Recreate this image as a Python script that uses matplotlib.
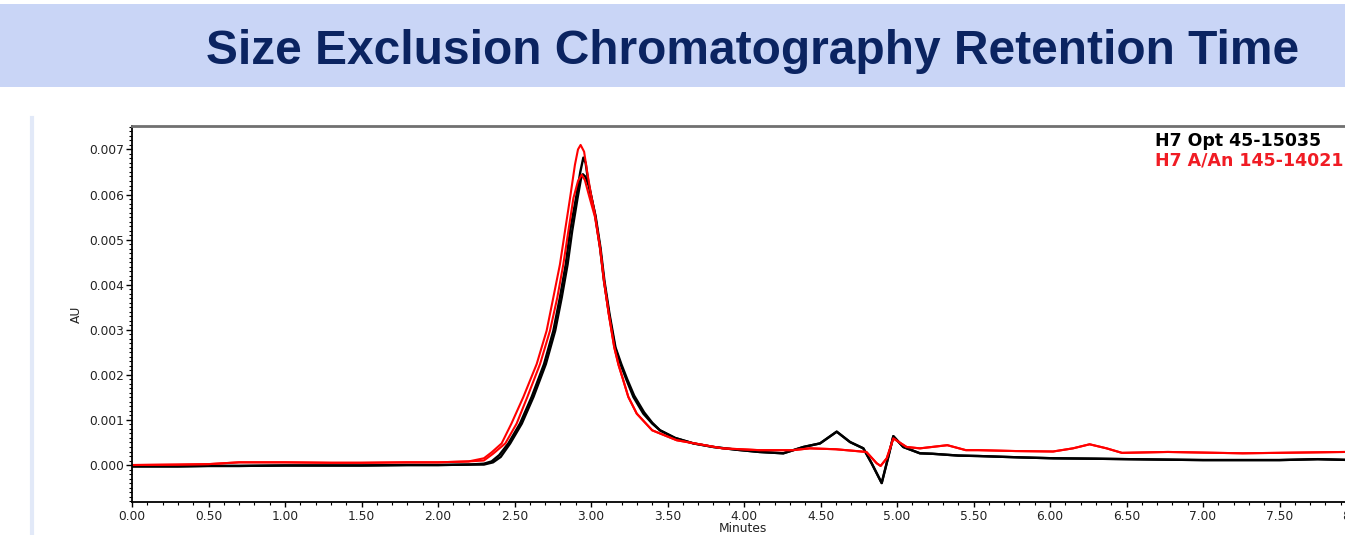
import numpy as np
import matplotlib
matplotlib.use("Agg")
import matplotlib.pyplot as plt
from matplotlib.ticker import MultipleLocator, FormatStrFormatter
from matplotlib.patches import Rectangle
from matplotlib.lines import Line2D

# ---------------- data ----------------
title = "Size Exclusion Chromatography Retention Time"
series_names = ["H7 Opt 45-15035", "H7 A/An 145-14021"]

# shared baseline region (minutes, AU)
t_base = [0.0, 0.3, 0.5, 0.7, 1.0, 1.3, 1.5, 1.8, 2.0, 2.2]
black_base = [-0.00003, -0.00003, -0.00002, -0.00002, -0.00001, -0.00001, -0.00001, 0.0, 0.0, 0.00001]
red_base = [0.0, 0.00001, 0.00002, 0.00006, 0.00006, 0.00005, 0.00005, 0.00006, 0.00006, 0.00008]

# peak regions
t_black_a = [2.3, 2.35, 2.40, 2.46, 2.536, 2.612, 2.693, 2.754, 2.797, 2.835, 2.863, 2.902, 2.93, 2.95,
             2.965, 2.982, 3.026, 3.059, 3.085, 3.118, 3.157, 3.195, 3.233, 3.277, 3.342, 3.40]
au_black_a = [0.00003, 0.00008, 0.00022, 0.00048, 0.00092, 0.00151, 0.00224, 0.00298, 0.00372, 0.00445,
              0.00519, 0.00592, 0.00650, 0.00682, 0.00670, 0.00629, 0.00556, 0.00482, 0.00408, 0.00335,
              0.00261, 0.00222, 0.00188, 0.00151, 0.00114, 0.00092]

t_black_b = [2.3, 2.36, 2.41, 2.472, 2.548, 2.624, 2.705, 2.766, 2.809, 2.847, 2.877, 2.912, 2.935, 2.947,
             2.962, 2.985, 3.030, 3.062, 3.088, 3.121, 3.160, 3.198, 3.237, 3.282, 3.347, 3.40]
au_black_b = [0.00001, 0.00006, 0.00018, 0.00048, 0.00092, 0.00151, 0.00224, 0.00298, 0.00372, 0.00445,
              0.00519, 0.00592, 0.00636, 0.00645, 0.00640, 0.00620, 0.00552, 0.00482, 0.00408, 0.00335,
              0.00261, 0.00224, 0.00190, 0.00154, 0.00117, 0.00094]

t_red_a = [2.3, 2.35, 2.416, 2.48, 2.558, 2.645, 2.71, 2.754, 2.797, 2.83, 2.863, 2.895, 2.915, 2.932,
           2.955, 2.975, 3.0, 3.026, 3.059, 3.085, 3.116, 3.152, 3.180, 3.211, 3.244, 3.299, 3.40]
au_red_a = [0.00015, 0.00028, 0.00048, 0.00092, 0.00151, 0.00224, 0.00298, 0.00372, 0.00445, 0.00519,
            0.00592, 0.00666, 0.00700, 0.00710, 0.00695, 0.00650, 0.00600, 0.00556, 0.00482, 0.00408,
            0.00335, 0.00261, 0.00222, 0.00188, 0.00151, 0.00114, 0.00077]

t_red_b = [2.3, 2.36, 2.44, 2.514, 2.584, 2.667, 2.732, 2.78, 2.819, 2.852, 2.885, 2.915, 2.939,
           2.96, 2.985, 3.026, 3.059, 3.085, 3.116, 3.152, 3.180, 3.211, 3.244, 3.299, 3.40]
au_red_b = [0.00010, 0.00025, 0.00048, 0.00092, 0.00151, 0.00224, 0.00298, 0.00372, 0.00445, 0.00519,
            0.00592, 0.00630, 0.00644, 0.00632, 0.00600, 0.00550, 0.00482, 0.00408, 0.00335, 0.00261,
            0.00222, 0.00188, 0.00151, 0.00114, 0.00077]

# tail regions
t_black_tail = [3.451, 3.55, 3.669, 3.80, 3.95, 4.10, 4.257, 4.388, 4.497, 4.606, 4.693, 4.78, 4.834, 4.90,
                4.943, 4.976, 5.041, 5.15, 5.23, 5.40, 5.53, 5.80, 6.02, 6.30, 6.51, 7.00, 7.50, 7.75, 8.10]
au_black_tail = [0.00077, 0.00060, 0.00048, 0.00040, 0.00034, 0.00029, 0.00026, 0.00040, 0.00048, 0.00074,
                 0.00051, 0.00037, 0.00004, -0.00040, 0.00018, 0.00064, 0.00040, 0.00026, 0.00025, 0.00021,
                 0.00020, 0.00017, 0.00015, 0.00014, 0.00013, 0.00011, 0.00011, 0.00013, 0.00010]

t_red_tail = [3.56, 3.86, 4.10, 4.32, 4.43, 4.60, 4.80, 4.867, 4.893, 4.933, 4.976, 5.063, 5.15, 5.329,
              5.45, 5.53, 5.776, 6.02, 6.15, 6.259, 6.37, 6.47, 6.77, 7.26, 7.93, 8.10]
au_red_tail = [0.00055, 0.00037, 0.00033, 0.00033, 0.00037, 0.00035, 0.00029, 0.00004, -0.00002, 0.00015,
               0.00059, 0.00040, 0.00037, 0.00044, 0.00033, 0.00033, 0.00031, 0.00030, 0.00037, 0.00046,
               0.00037, 0.00027, 0.00029, 0.00026, 0.00029, 0.00028]

x_major = 0.5
y_major = 0.001

# ---------------- figure ----------------
W, H = 1345, 535
fig = plt.figure(figsize=(W / 100, H / 100), dpi=100)
fig.patch.set_facecolor("white")

def fx(px):
    return px / W

def fy(py):
    return 1 - py / H

# title banner
fig.patches.append(Rectangle((0, fy(87)), 1, fy(4) - fy(87), transform=fig.transFigure,
                             facecolor="#c9d5f6", edgecolor="none", zorder=0))
fig.text(fx(753), fy(64), title, ha="center", va="baseline", fontsize=34.5,
         fontweight="bold", family=["Liberation Sans", "DejaVu Sans"], color="#0b2461")

# thin light-blue vertical line on the left
fig.lines.append(Line2D([fx(32), fx(32)], [fy(118), 0], transform=fig.transFigure,
                        color="#e2e9f8", lw=3))

# axes
x0, x1 = 0.0, 8.05
px_per_min = 153.0
left_px, top_px, bot_px = 132, 126, 502
right_px = left_px + (x1 - x0) * px_per_min
ax = fig.add_axes([fx(left_px), fy(bot_px), (right_px - left_px) / W, (bot_px - top_px) / H])

def cat(*parts):
    return np.concatenate([np.asarray(p, dtype=float) for p in parts])

tb_a = cat(t_base, t_black_a, t_black_tail)
vb_a = cat(black_base, au_black_a, au_black_tail)
tb_b = cat(t_base, t_black_b, t_black_tail)
vb_b = cat(black_base, au_black_b, au_black_tail)
tr_a = cat(t_base, t_red_a, t_red_tail)
vr_a = cat(red_base, au_red_a, au_red_tail)
tr_b = cat(t_base, t_red_b, t_red_tail)
vr_b = cat(red_base, au_red_b, au_red_tail)

ax.plot(tb_a, vb_a, color="black", lw=1.7)
ax.plot(tb_b, vb_b, color="black", lw=1.7)
ax.plot(tr_a, vr_a, color="#ff0000", lw=1.5)
ax.plot(tr_b, vr_b, color="#ff0000", lw=1.5)

ax.set_xlim(x0, x1)
ax.set_ylim(-0.00082, 0.00752)

ax.xaxis.set_major_locator(MultipleLocator(x_major))
ax.xaxis.set_minor_locator(MultipleLocator(0.1))
ax.yaxis.set_major_locator(MultipleLocator(y_major))
ax.yaxis.set_minor_locator(MultipleLocator(0.0001))
ax.xaxis.set_major_formatter(FormatStrFormatter("%.2f"))
ax.yaxis.set_major_formatter(FormatStrFormatter("%.3f"))

ax.tick_params(axis="both", which="major", direction="out", length=3.5, width=1, colors="black",
               labelsize=8.8, labelcolor="#222222")
ax.tick_params(axis="y", which="major", pad=1.5, length=4)
ax.tick_params(axis="x", which="major", pad=2.5)
ax.tick_params(axis="both", which="minor", direction="out", length=2, width=0.8)
for lab in ax.get_xticklabels() + ax.get_yticklabels():
    lab.set_family("DejaVu Sans")

for side in ["left", "bottom"]:
    ax.spines[side].set_color("black")
    ax.spines[side].set_linewidth(1.3)
ax.spines["top"].set_color("#707070")
ax.spines["top"].set_linewidth(2)
ax.spines["right"].set_visible(False)

ax.set_xlabel("Minutes", fontsize=8.8, family="DejaVu Sans", color="#222222")
ax.xaxis.set_label_coords((743 - left_px) / (right_px - left_px), -(529 - bot_px) / (bot_px - top_px))
ax.xaxis.label.set_va("center")
ax.set_ylabel("AU", fontsize=8.8, family="DejaVu Sans", color="#222222")
ax.yaxis.set_label_coords(-(left_px - 76) / (right_px - left_px), (bot_px - 314) / (bot_px - top_px))
ax.yaxis.label.set_va("center")

# legend text
fig.text(fx(1155), fy(145.7), series_names[0], ha="left", va="baseline", fontsize=12.5,
         fontweight="bold", family="DejaVu Sans", color="black")
fig.text(fx(1155), fy(165.7), series_names[1], ha="left", va="baseline", fontsize=12.5,
         fontweight="bold", family="DejaVu Sans", color="#f01c24")

fig.savefig("out.png", dpi=100, facecolor="white")
